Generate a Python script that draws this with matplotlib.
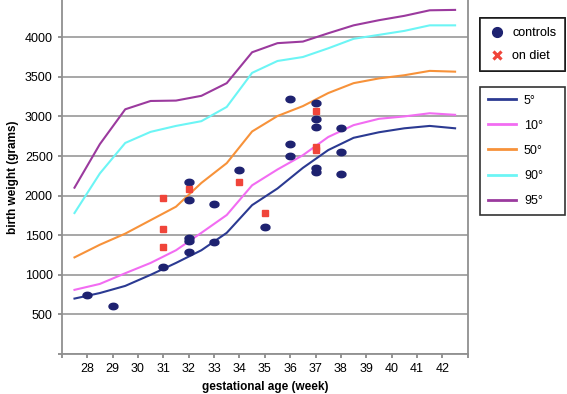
import numpy as np
import matplotlib
matplotlib.use("Agg")
import matplotlib.pyplot as plt
from matplotlib.lines import Line2D

plt.rcParams['font.family'] = ['Liberation Sans', 'DejaVu Sans']

# percentile curves (half weeks)
weeks = [27.5, 28.5, 29.5, 30.5, 31.5, 32.5, 33.5, 34.5, 35.5, 36.5,
         37.5, 38.5, 39.5, 40.5, 41.5, 42.5]
p5 = [700, 770, 860, 1000, 1150, 1310, 1530, 1880, 2090, 2350,
      2575, 2730, 2800, 2850, 2880, 2850]
p10 = [810, 885, 1020, 1150, 1310, 1530, 1755, 2130, 2330, 2510,
       2740, 2890, 2970, 3000, 3040, 3020]
p50 = [1220, 1380, 1520, 1690, 1860, 2160, 2410, 2810, 3005, 3130,
       3295, 3420, 3480, 3520, 3575, 3565]
p90 = [1780, 2280, 2665, 2805, 2880, 2940, 3120, 3550, 3700, 3750,
       3860, 3980, 4030, 4080, 4150, 4150]
p95 = [2100, 2650, 3090, 3195, 3200, 3260, 3420, 3810, 3925, 3945,
       4050, 4150, 4215, 4270, 4340, 4345]

curve_labels = ["5°", "10°", "50°", "90°", "95°"]
curve_colors = ["#2B3A92", "#F26CF2", "#F7923A", "#6CF5F5", "#9B3A9E"]

# individual babies
ctrl_week = [28, 29, 31, 32, 32, 32, 32, 32, 33, 33, 34, 35, 36, 36, 36,
             37, 37, 37, 37, 37, 38, 38, 38]
ctrl_wt = [740, 600, 1100, 2170, 1950, 1460, 1430, 1290, 1900, 1415, 2320,
           1605, 3220, 2650, 2500, 3170, 2970, 2865, 2350, 2300, 2850,
           2550, 2270]
diet_week = [31, 31, 31, 32, 34, 35, 37, 37, 37]
diet_wt = [1970, 1580, 1350, 2080, 2170, 1780, 3070, 2610, 2575]

fig = plt.figure(figsize=(5.67, 3.94), dpi=100)
ax = fig.add_axes([0.109, 0.1015, 0.716, 0.8985])

for vals, lab, col in zip([p5, p10, p50, p90, p95], curve_labels, curve_colors):
    ax.plot(weeks, vals, color=col, lw=1.5, label=lab, zorder=3)

t = np.linspace(0, 2 * np.pi, 30)
ell = np.column_stack([np.cos(t) * 1.4, np.sin(t)])
ax.plot(ctrl_week, ctrl_wt, ls='none', marker=ell, ms=6.5, color="#1E2270",
        mec="#1E2270", zorder=4)
ax.plot(diet_week, diet_wt, ls='none', marker='s', ms=4, color="#F0453A",
        mec="#F0453A", zorder=4)

ax.set_xlim(27, 43)
ax.set_ylim(0, 4470)
ax.set_xticks(range(27, 44))
ax.set_xticklabels([""] + [str(w) for w in range(28, 43)] + [""])
ax.set_yticks(range(0, 4001, 500))
ax.set_yticklabels([""] + [str(v) for v in range(500, 4001, 500)])
ax.tick_params(axis='both', labelsize=9, colors='#808080', labelcolor='black',
               length=3, width=1.2)
ax.grid(axis='y', color='#A0A0A0', lw=1.3)
ax.set_axisbelow(True)
for s in ['left', 'bottom', 'right']:
    ax.spines[s].set_color('#909090')
    ax.spines[s].set_linewidth(1.3)
ax.spines['top'].set_visible(False)

ax.set_xlabel("gestational age (week)", fontsize=8.5, fontweight='bold', labelpad=4)
ax.set_ylabel("birth weight (grams)", fontsize=8.5, fontweight='bold', labelpad=4)

# legends
h1 = [Line2D([], [], ls='none', marker='o', ms=7, color="#1E2270"),
      Line2D([], [], ls='none', marker='x', ms=6, mew=2.2, color="#F0453A")]
leg1 = fig.legend(h1, ["controls", "on diet"], loc='upper left',
                  bbox_to_anchor=(0.847, 0.954, 0.15, 0.0), mode='expand',
                  borderaxespad=0, frameon=True, fancybox=False,
                  edgecolor='black', fontsize=9, handlelength=1.2,
                  handletextpad=0.6, labelspacing=0.85, borderpad=0.75)
leg1.get_frame().set_linewidth(1.2)
fig.add_artist(leg1)

h2 = [Line2D([], [], color=c, lw=2) for c in curve_colors]
leg2 = fig.legend(h2, curve_labels, loc='upper left',
                  bbox_to_anchor=(0.847, 0.779, 0.15, 0.0), mode='expand',
                  borderaxespad=0, frameon=True, fancybox=False,
                  edgecolor='black', fontsize=9, handlelength=2.3,
                  handletextpad=0.6, labelspacing=1.05, borderpad=0.6)
leg2.get_frame().set_linewidth(1.2)

fig.savefig("out.png", dpi=100)
